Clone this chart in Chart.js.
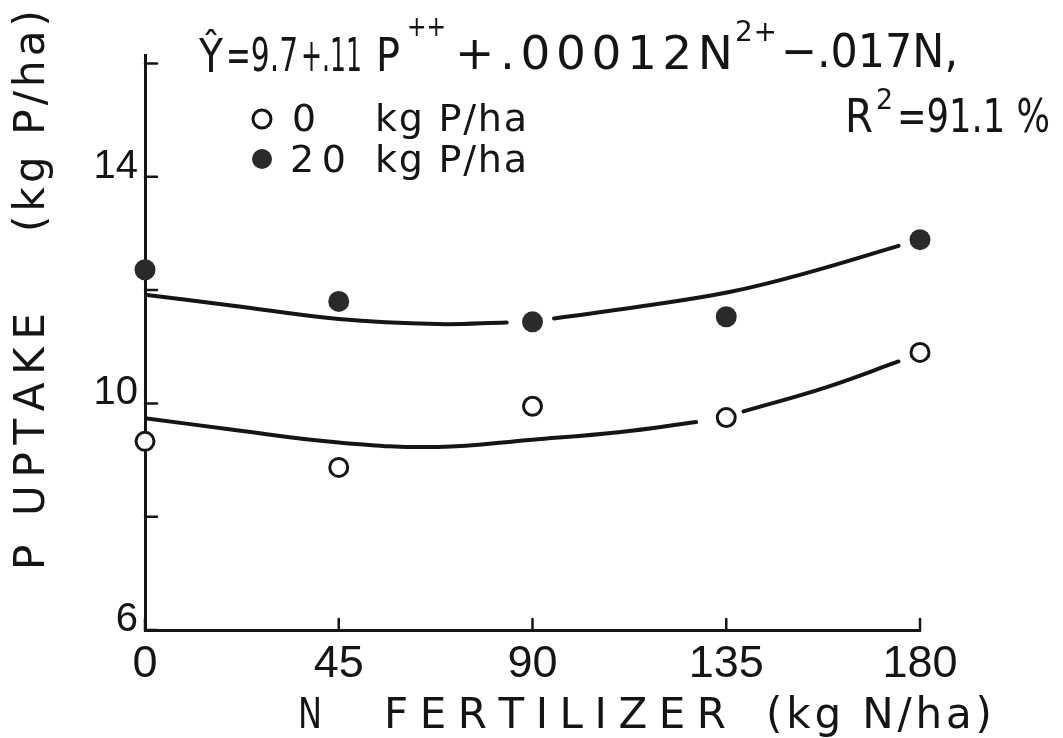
<!DOCTYPE html>
<html>
<head>
<meta charset="utf-8">
<script src="https://cdn.jsdelivr.net/npm/chart.js@4.4.1/dist/chart.umd.min.js"></script>
<style>
  html, body { margin: 0; padding: 0; background: #fff; overflow: hidden; }
  #wrap { width: 1063px; height: 738px; }
</style>
</head>
<body>
<div id="wrap"><canvas id="chart"></canvas></div>
<script>
// N rates and measured P uptake
const nLevels = [0, 45, 90, 135, 180];
const uptakeP0 = [9.33, 8.87, 9.95, 9.75, 10.90];
const uptakeP20 = [12.36, 11.80, 11.44, 11.53, 12.89];

// fitted curves (null = pen lifted near a point)
const fitP0N = [0, 20, 45, 68, 90, 110, 128, 135, 139, 158, 175];
const fitP0Y = [9.74, 9.54, 9.31, 9.23, 9.36, 9.49, 9.67, null, 9.86, 10.28, 10.74];
const fitP20N = [0, 20, 45, 68, 84, 90, 95, 115, 136, 155, 175];
const fitP20Y = [11.92, 11.73, 11.49, 11.40, 11.43, null, 11.50, 11.71, 11.97, 12.33, 12.78];

const xTicks = [0, 45, 90, 135, 180];
const yTickMarks = [6, 8, 10, 12, 14, 16];
const yTickLabels = [6, 10, 14];

const INK = '#151515';
const FONT = '"DejaVu Sans", "Liberation Sans", sans-serif';
const TICKFONT = '"Liberation Sans", "DejaVu Sans", sans-serif';

const pts = (xs, ys) => xs.map((x, i) => ({x: x, y: ys[i]}));

function fitText(ctx, str, x1, x2, y) {
    const target = x2 - x1;
    const chars = [...str];
    const widths = chars.map(c => ctx.measureText(c).width);
    const sum = widths.reduce((a, b) => a + b, 0);
    if (chars.length < 2 || sum >= target) {
        const w = ctx.measureText(str).width;
        ctx.save();
        ctx.translate(x1, y);
        ctx.scale(target / w, 1);
        ctx.fillText(str, 0, 0);
        ctx.restore();
        return;
    }
    const gap = (target - sum) / (chars.length - 1);
    let x = x1;
    chars.forEach((c, i) => {
        ctx.fillText(c, x, y);
        x += widths[i] + gap;
    });
}

const decor = {
    id: 'decor',
    afterDraw(chart) {
        const ctx = chart.ctx;
        const a = chart.chartArea;
        const xs = chart.scales.x, ys = chart.scales.y;
        ctx.save();
        ctx.strokeStyle = INK;
        ctx.fillStyle = INK;
        ctx.lineCap = 'round';

        // inward tick marks
        ctx.lineWidth = 2.5;
        yTickMarks.forEach(v => {
            const py = ys.getPixelForValue(v);
            ctx.beginPath(); ctx.moveTo(a.left, py); ctx.lineTo(a.left + 12, py); ctx.stroke();
        });
        xTicks.forEach(v => {
            const px = xs.getPixelForValue(v);
            ctx.beginPath(); ctx.moveTo(px, a.bottom); ctx.lineTo(px, a.bottom - 11); ctx.stroke();
        });

        ctx.textAlign = 'left';
        ctx.textBaseline = 'alphabetic';

        // axis titles
        ctx.font = '42px ' + FONT;
        fitText(ctx, 'N', 298, 322, 728);
        fitText(ctx, 'FERTILIZER', 384, 726, 728);
        fitText(ctx, '(kg N/ha)', 766, 992, 728);

        ctx.save();
        ctx.translate(44, 0);
        ctx.rotate(-Math.PI / 2);
        fitText(ctx, 'P UPTAKE', -570, -313, 0);
        fitText(ctx, '(kg P/ha)', -232, -10, 0);
        ctx.restore();

        // regression equation
        ctx.font = '47px ' + FONT;
        fitText(ctx, 'Ŷ', 199, 223, 72);
        fitText(ctx, '=9.7', 226, 298, 71);
        fitText(ctx, '+.11', 301, 362, 71);
        fitText(ctx, 'P', 376, 400, 71);
        fitText(ctx, '+.00012N', 455, 733, 69);
        fitText(ctx, '−.017N,', 781, 958, 67);
        fitText(ctx, 'R', 845, 873, 132);
        fitText(ctx, '=91.1 %', 897, 1050, 132);
        ctx.font = '28px ' + FONT;
        fitText(ctx, '++', 407, 446, 36);
        fitText(ctx, '2+', 735, 777, 41);
        fitText(ctx, '2', 876, 893, 109);

        // legend
        ctx.font = '38px ' + FONT;
        ctx.lineWidth = 3;
        ctx.fillStyle = '#fff';
        ctx.beginPath(); ctx.arc(262, 119, 9, 0, Math.PI * 2); ctx.fill(); ctx.stroke();
        ctx.fillStyle = '#2a2a2a';
        ctx.beginPath(); ctx.arc(262, 159, 10, 0, Math.PI * 2); ctx.fill();
        ctx.fillStyle = INK;
        fitText(ctx, '0', 292, 316, 131);
        fitText(ctx, 'kg P/ha', 375, 527, 131);
        fitText(ctx, '20', 290, 346, 172);
        fitText(ctx, 'kg P/ha', 375, 527, 172);

        ctx.restore();
    }
};

new Chart(document.getElementById('chart'), {
    type: 'scatter',
    data: {
        datasets: [
            {
                label: '0 kg P/ha',
                data: pts(nLevels, uptakeP0),
                pointRadius: 9,
                borderWidth: 3,
                borderColor: INK,
                backgroundColor: '#fff',
                clip: false,
                order: 0
            },
            {
                label: '20 kg P/ha',
                data: pts(nLevels, uptakeP20),
                pointRadius: 10.5,
                borderWidth: 0,
                borderColor: '#2a2a2a',
                backgroundColor: '#2a2a2a',
                clip: false,
                order: 0
            },
            {
                label: 'fit 0 P',
                data: pts(fitP0N, fitP0Y),
                showLine: true,
                spanGaps: false,
                tension: 0.4,
                pointRadius: 0,
                borderWidth: 4,
                borderColor: INK,
                borderCapStyle: 'round',
                order: 1
            },
            {
                label: 'fit 20 P',
                data: pts(fitP20N, fitP20Y),
                showLine: true,
                spanGaps: false,
                tension: 0.4,
                pointRadius: 0,
                borderWidth: 4,
                borderColor: INK,
                borderCapStyle: 'round',
                order: 1
            }
        ]
    },
    options: {
        responsive: true,
        maintainAspectRatio: false,
        animation: false,
        layout: {padding: {left: 0, top: 55, right: 143, bottom: 0}},
        plugins: {legend: {display: false}, tooltip: {enabled: false}},
        scales: {
            x: {
                type: 'linear',
                min: 0,
                max: 180,
                afterFit: s => { s.height = 108; },
                afterBuildTicks: s => { s.ticks = xTicks.map(v => ({value: v})); },
                grid: {display: true, color: 'transparent', drawTicks: false},
                border: {display: true, color: INK, width: 3},
                ticks: {
                    color: INK,
                    padding: 8,
                    maxRotation: 0,
                    font: {family: TICKFONT, size: 45},
                    callback: v => String(v)
                }
            },
            y: {
                type: 'linear',
                min: 6,
                max: 16.15,
                afterFit: s => { s.width = 145; },
                afterBuildTicks: s => { s.ticks = yTickMarks.map(v => ({value: v})); },
                grid: {display: true, color: 'transparent', drawTicks: false},
                border: {display: true, color: INK, width: 3},
                ticks: {
                    color: INK,
                    padding: 7,
                    labelOffset: -10,
                    font: {family: TICKFONT, size: 40},
                    callback: v => yTickLabels.includes(v) ? String(v) : ''
                }
            }
        }
    },
    plugins: [decor]
});
</script>
</body>
</html>
